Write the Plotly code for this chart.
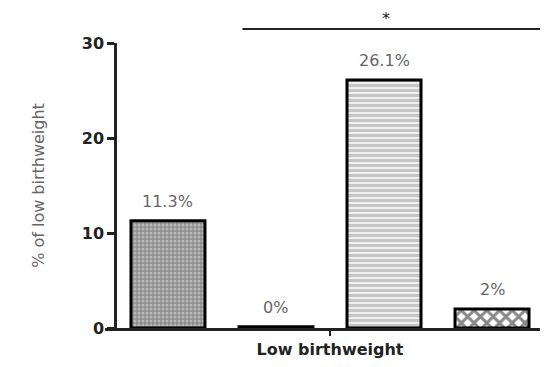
import plotly.graph_objects as go

# ---- data ----
groups = ["G1", "G2", "G3", "G4"]
values = [11.3, 0.0, 26.1, 2.0]
labels = ["11.3%", "0%", "26.1%", "2%"]
y_ticks = [0, 10, 20, 30]
x_label = "Low birthweight"
y_title = "% of low birthweight"

# ---- styles ----
pat_shapes = [".", "", "-", "x"]
pat_bg = ["#8c8c8c", "black", "white", "white"]
pat_fg = ["#e6e6e6", "black", "#8e8e8e", "#111111"]
pat_size = [4, 8, 5, 9]
pat_sol = [0.45, 0.3, 0.72, 0.55]

xpos = list(range(len(groups)))
# keep zero bar visible as a thin outline (as in the original)
disp = [max(v, 0.12) for v in values]

fig = go.Figure()
for i in xpos:
    fig.add_trace(go.Bar(
        x=[xpos[i]], y=[disp[i]], width=0.685,
        marker=dict(
            color=pat_bg[i],
            line=dict(color="black", width=3),
            pattern=dict(shape=pat_shapes[i], bgcolor=pat_bg[i], fgcolor=pat_fg[i],
                         size=pat_size[i], solidity=pat_sol[i], fillmode="overlay"),
        ),
        hoverinfo="skip",
    ))

for xi, v, t in zip(xpos, disp, labels):
    fig.add_annotation(x=xi, y=v, text=t, showarrow=False, yanchor="bottom",
                       yshift=8, font=dict(family="DejaVu Sans", size=16, color="#666666"))

# significance bar
fig.add_shape(type="line", xref="x", yref="paper", x0=0.69, x1=3.46, y0=1.049, y1=1.049,
              line=dict(color="#222222", width=2))
fig.add_annotation(x=2.02, xref="x", yref="paper", y=1.085, text="*", showarrow=False,
                   yanchor="middle", font=dict(family="DejaVu Sans", size=16, color="#222222"))

fig.update_layout(
    width=540, height=359,
    margin=dict(l=97, r=1, t=35, b=39),
    plot_bgcolor="white", paper_bgcolor="white",
    showlegend=False, barmode="overlay",
    xaxis=dict(range=[-0.583, 3.509], showgrid=False, zeroline=False,
               showline=True, linecolor="#222222", linewidth=2.5,
               tickmode="array", tickvals=[1.5], ticktext=[x_label],
               ticks="outside", ticklen=5, tickwidth=2, tickcolor="#222222",
               tickfont=dict(family="DejaVu Sans", size=16, color="#222222", weight="bold")),
    yaxis=dict(range=[0, 30], showgrid=False, zeroline=False,
               anchor="free", position=0.0226,
               showline=True, linecolor="#222222", linewidth=2.5,
               tickmode="array", tickvals=y_ticks,
               ticks="outside", ticklen=7, tickwidth=2.5, tickcolor="#222222",
               tickfont=dict(family="DejaVu Sans", size=16, color="#222222", weight="bold"),
               title=dict(text=y_title, standoff=32,
                          font=dict(family="DejaVu Sans", size=16, color="#666666"))),
)

fig.write_html("out.html")
